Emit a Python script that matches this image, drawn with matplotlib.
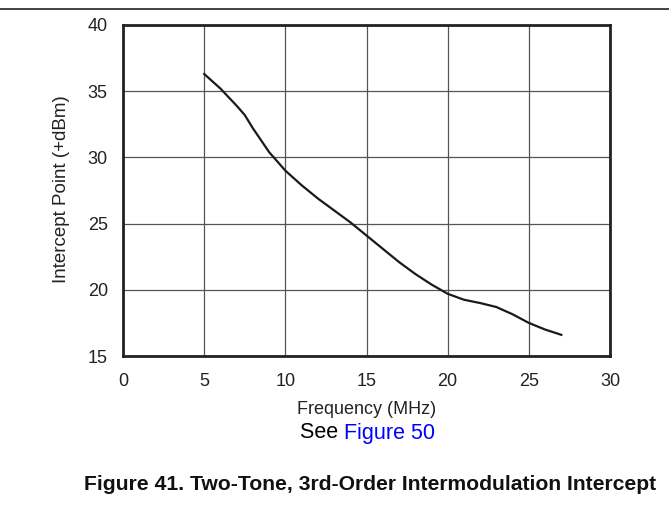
import matplotlib.pyplot as plt
from matplotlib.lines import Line2D

plt.rcParams['font.family'] = ['Liberation Sans', 'DejaVu Sans']

freq = [5, 6, 7, 7.5, 8, 9, 10, 11, 12, 13, 14, 15, 16, 17, 18, 19, 20,
        21, 22, 23, 24, 25, 26, 27]
ip3 = [36.3, 35.2, 33.9, 33.2, 32.2, 30.4, 29.0, 27.9, 26.9, 26.0, 25.1,
       24.1, 23.1, 22.1, 21.2, 20.4, 19.7, 19.25, 19.0, 18.7, 18.15, 17.5,
       17.0, 16.6]
xticks = [0, 5, 10, 15, 20, 25, 30]
yticks = [15, 20, 25, 30, 35, 40]

W, H = 669, 508
fig = plt.figure(figsize=(6.69, 5.08), dpi=100)
ax = fig.add_axes([0.1839, 0.2992, 0.7279, 0.6516])

ax.plot(freq, ip3, color='#1a1a1a', lw=1.6)
ax.set_xlim(0, 30)
ax.set_ylim(15, 40)
ax.set_xticks(xticks)
ax.set_yticks(yticks)
ax.grid(True, color='#555555', lw=0.9)
ax.set_axisbelow(True)
ax.tick_params(length=0, labelsize=13, colors='#222222')
ax.tick_params(axis='x', pad=12)
ax.tick_params(axis='y', pad=11)
for s in ax.spines.values():
    s.set_linewidth(2)
    s.set_color('#222222')

# axis titles and captions placed in pixel spots of the reference
fig.text(367 / W, 1 - 409 / H, 'Frequency (MHz)', ha='center', va='center',
         fontsize=13, color='#222222')
fig.text(61 / W, 1 - 189 / H, 'Intercept Point (+dBm)', ha='center', va='center',
         rotation=90, fontsize=13.5, color='#222222')

fig.text(344 / W, 1 - 433 / H, 'See ', ha='right', va='center', fontsize=15.5)
fig.text(344 / W, 1 - 433 / H, 'Figure 50', ha='left', va='center',
         fontsize=15.5, color='#0000ff')
fig.text(656 / W, 1 - 485 / H, 'Figure 41. Two-Tone, 3rd-Order Intermodulation Intercept',
         ha='right', va='center', fontsize=15.2, fontweight='bold', color='#111111')

fig.add_artist(Line2D([0, 1], [1 - 8.5 / H, 1 - 8.5 / H], color='#222222', lw=1.2,
                      transform=fig.transFigure))

fig.savefig('out.png', dpi=100)
